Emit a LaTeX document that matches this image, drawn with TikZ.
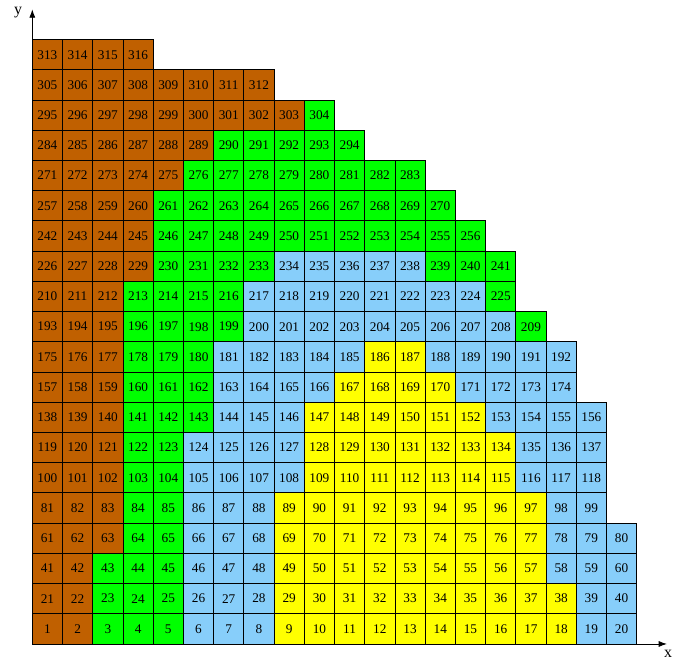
\documentclass[tikz,border=0pt]{standalone}
\usepackage{fontspec}
\setmainfont{Liberation Serif}
\usepackage{tikz}
\usetikzlibrary{arrows.meta}
\definecolor{br}{HTML}{C06000}
\definecolor{gr}{HTML}{00FF00}
\definecolor{bl}{HTML}{87CEFA}
\definecolor{ye}{HTML}{FFFF00}
\tikzset{
  cell/.style={draw=black,line width=.6pt,minimum size=.8cm,inner sep=0pt,font=\normalsize},
  axis/.style={-{Latex[length=2.2mm,width=1.6mm]},line width=.6pt},
  axlabel/.style={font=\large}
}
\begin{document}
\begin{tikzpicture}[x=.8cm,y=.8cm]
  \useasboundingbox (-1.069,-.662) rectangle (21.466,21.31);
  % rows: row / first number / colour runs (colour/from column/to column)
  \foreach \r/\s/\runs in {
    1/1/{br/1/2,gr/3/5,bl/6/8,ye/9/18,bl/19/20},
    2/21/{br/1/2,gr/3/5,bl/6/8,ye/9/18,bl/19/20},
    3/41/{br/1/2,gr/3/5,bl/6/8,ye/9/17,bl/18/20},
    4/61/{br/1/3,gr/4/5,bl/6/8,ye/9/17,bl/18/20},
    5/81/{br/1/3,gr/4/5,bl/6/8,ye/9/17,bl/18/19},
    6/100/{br/1/3,gr/4/5,bl/6/9,ye/10/16,bl/17/19},
    7/119/{br/1/3,gr/4/5,bl/6/9,ye/10/16,bl/17/19},
    8/138/{br/1/3,gr/4/6,bl/7/9,ye/10/15,bl/16/19},
    9/157/{br/1/3,gr/4/6,bl/7/10,ye/11/14,bl/15/18},
    10/175/{br/1/3,gr/4/6,bl/7/11,ye/12/13,bl/14/18},
    11/193/{br/1/3,gr/4/7,bl/8/16,gr/17/17},
    12/210/{br/1/3,gr/4/7,bl/8/15,gr/16/16},
    13/226/{br/1/4,gr/5/8,bl/9/13,gr/14/16},
    14/242/{br/1/4,gr/5/15},
    15/257/{br/1/4,gr/5/14},
    16/271/{br/1/5,gr/6/13},
    17/284/{br/1/6,gr/7/11},
    18/295/{br/1/9,gr/10/10},
    19/305/{br/1/8},
    20/313/{br/1/4}} {
    \foreach \c/\a/\b in \runs {
      \foreach \x in {\a,...,\b} {
        \pgfmathtruncatemacro\n{\s+\x-1}
        \node[cell,fill=\c] (n\n) at (\x-.5,\r-.5) {\n};
      }
    }
  }
  \coordinate (o) at (0,0);
  \coordinate (xend) at (21,0);
  \coordinate (yend) at (0,21);
  \draw[axis] (o) -- (xend);
  \draw[axis] (o) -- (yend);
  \node[axlabel] (xl) at (21.04,-.33) {x};
  \node[axlabel] (yl) at (-.47,20.91) {y};
\end{tikzpicture}
\end{document}
